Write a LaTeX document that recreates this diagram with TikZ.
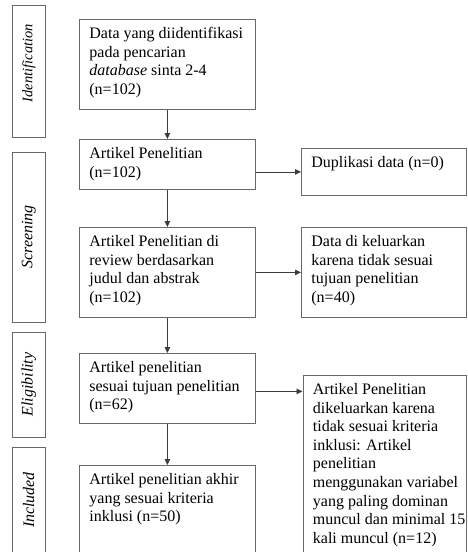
\documentclass[tikz,border=0pt]{standalone}
\usepackage{fontspec}
\setmainfont{Liberation Serif}
\usetikzlibrary{arrows.meta}
\definecolor{boxline}{RGB}{105,105,105}
\definecolor{arrline}{RGB}{60,60,60}
\newcommand{\boxtxt}[3]{\parbox[t][#2][t]{#1}{\raggedright\rule{0pt}{19pt}#3}}
\tikzset{
  mainbox/.style={draw=boxline, line width=0.8pt, anchor=north west, inner xsep=10pt, inner ysep=0pt,
                  font=\fontsize{16}{18.6}\selectfont},
  sidebox/.style={draw=boxline, line width=0.8pt, rotate=90, inner sep=0pt, minimum height=33.5pt,
                  font=\fontsize{16}{18.6}\selectfont\itshape},
  arr/.style={draw=arrline, line width=0.8pt, -{Triangle[length=6pt,width=5.5pt]}}
}
\begin{document}
\begin{tikzpicture}[x=1pt,y=-1pt]
\clip (0,0) rectangle (467,552);
% side phase boxes
\node[sidebox, minimum width=132.5pt] (sid) at (28.75,71.25) {\fontsize{14.5}{16}\selectfont\hspace*{16pt}Identification};
\node[sidebox, minimum width=170pt] (sscr) at (28.75,237) {Screening};
\node[sidebox, minimum width=105pt] (selig) at (28.75,384.5) {Eligibility};
\node[sidebox, minimum width=106pt] (sinc) at (28.75,500) {Included};
% main column
\node[mainbox] (b1) at (79,19) {\boxtxt{156pt}{90pt}{Data yang diidentifikasi\\pada pencarian\\\textit{database} sinta 2-4\\(n=102)}};
\node[mainbox] (b2) at (79,139) {\boxtxt{156pt}{50pt}{Artikel Penelitian\\(n=102)}};
\node[mainbox] (b3) at (79,227) {\boxtxt{156pt}{90pt}{Artikel Penelitian di\\review berdasarkan\\judul dan abstrak\\(n=102)}};
\node[mainbox] (b4) at (79,353) {\boxtxt{156pt}{70pt}{Artikel penelitian\\sesuai tujuan penelitian\\(n=62)}};
\node[mainbox] (b5) at (79,465) {\boxtxt{156pt}{86.5pt}{Artikel penelitian akhir\\yang sesuai kriteria\\inklusi (n=50)}};
% right column
\node[mainbox] (dup) at (301,148) {\boxtxt{145pt}{47pt}{Duplikasi data (n=0)}};
\node[mainbox] (dat) at (301,227) {\boxtxt{145pt}{90pt}{Data di keluarkan\\karena tidak sesuai\\tujuan penelitian\\(n=40)}};
\node[mainbox] (exc) at (302.5,375) {\boxtxt{143.5pt}{176.5pt}{\mbox{Artikel Penelitian}\\\mbox{dikeluarkan karena}\\\mbox{tidak sesuai kriteria}\\\mbox{inklusi: Artikel}\\\mbox{penelitian}\\\mbox{menggunakan variabel}\\\mbox{yang paling dominan}\\\mbox{muncul dan minimal 15}\\\mbox{kali muncul (n=12)}}};
% arrows
\draw[arr] (b1.south) -- (b2.north);
\draw[arr] (b2.south) -- (b3.north);
\draw[arr] (b3.south) -- (b4.north);
\draw[arr] (b4.south) -- (b5.north);
\draw[arr] (b2.east |- dup.west) -- (dup.west);
\draw[arr] (b3.east) -- (dat.west);
\draw[arr] ([yshift=-3pt]b4.east) -- ([yshift=-3pt]b4.east -| exc.west);
\end{tikzpicture}
\end{document}
